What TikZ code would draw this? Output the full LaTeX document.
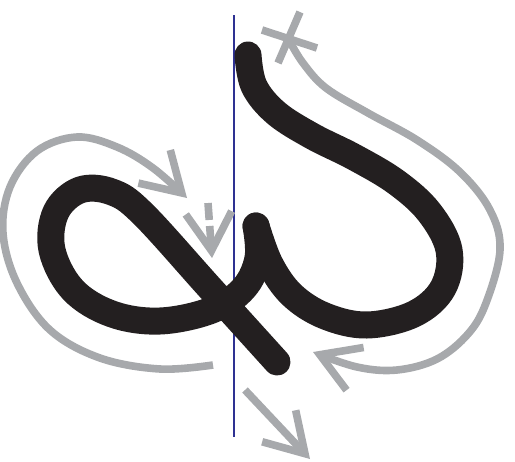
\documentclass[tikz,border=0pt]{standalone}
\usepackage{xcolor}
\usepackage{tikz}
\usetikzlibrary{arrows.meta}

\definecolor{inkblack}{HTML}{231F20}
\definecolor{guidegray}{HTML}{A7A9AC}
\definecolor{axisblue}{HTML}{2E3192}

\begin{document}
\begin{tikzpicture}[
    x=0.5mm, y=-0.5mm,
    pen/.style = {
        draw=inkblack,
        line width=13.5mm,
        line cap=round,
        line join=round
    },
    guide/.style = {
        draw=guidegray,
        line width=3.8mm
    },
    guidetip/.style = {
        -{Straight Barb[length=19mm, width=23mm, line cap=butt, line join=miter]}
    },
    axisline/.style = {
        draw=axisblue,
        line width=1.2mm
    }
]
\useasboundingbox (0,0) rectangle (515,461);

% --- Axe vertical ---
\coordinate (axisTop) at (234,15);
\coordinate (axisBot) at (234,437);
\draw[axisline] (axisTop) -- (axisBot);

% --- Trait noir : boucle droite ---
\draw[pen] plot[smooth, tension=0.6] coordinates {
    (248,55) (254,86) (276,113) (312,136) (354,157) (396,182)
    (429,212) (449,250) (443,288) (414,314) (367,325) (325,316)
    (292,295) (270,264) (256,226)};

% --- Trait noir : boucle gauche et diagonale ---
\draw[pen] plot[smooth, tension=0.6] coordinates {
    (256,226) (258,258) (244,288) (212,310) (160,321) (112,314)
    (73,290) (52,250) (56,212) (80,190) (112,192) (143,214)
    (210,288) (277,362)};

% --- Guide droit (départ marqué d'une croix) ---
\draw[guide] (262,30) -- (317,48);
\draw[guide] (300,12) -- (278,63);
\draw[guide, guidetip] plot[smooth, tension=0.6] coordinates {
    (289,40) (303,63) (326,88) (368,113) (417,140) (460,172)
    (490,210) (500,250) (486,303) (468,334) (437,359) (397,370)
    (357,367) (313,352)};

% --- Guide gauche ---
\draw[guide, guidetip] plot[smooth, tension=0.6] coordinates {
    (213,365) (160,369) (100,358) (50,330) (17,283) (3,233)
    (10,187) (37,151) (77,137) (117,147) (153,168) (187,198)};

% --- Petite flèche pointillée ---
\coordinate (dashTop) at (208,203);
\coordinate (dashTip) at (212,258);
\draw[guide, guidetip, dash pattern=on 8.5mm off 3mm] (dashTop) -- (dashTip);

% --- Flèche de sortie ---
\coordinate (exitStart) at (245,390);
\coordinate (exitTip) at (310,459);
\draw[guide, guidetip] (exitStart) -- (exitTip);

\end{tikzpicture}
\end{document}
